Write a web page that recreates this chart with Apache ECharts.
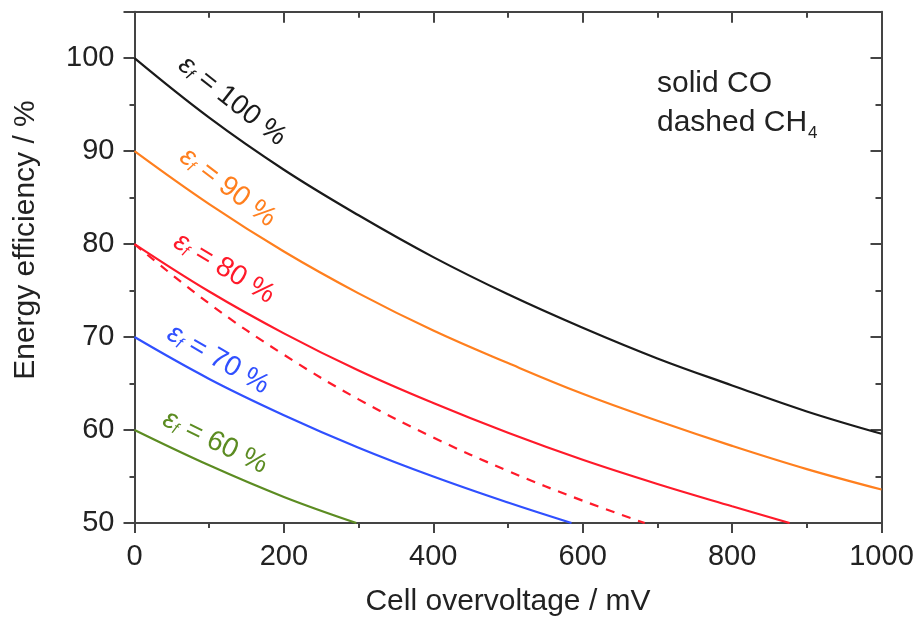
<!DOCTYPE html>
<html>
<head>
<meta charset="utf-8">
<script src="https://cdn.jsdelivr.net/npm/echarts@6/dist/echarts.min.js"></script>
<style>
html,body{margin:0;padding:0;background:#fff;}
#chart{width:918px;height:622px;}
</style>
</head>
<body>
<div id="chart"></div>
<script>
// ---- data ----
const xFull = [0, 100, 200, 300, 400, 500, 600, 700, 800, 900, 1000];
const eff100 = [100, 93.6, 88.0, 83.1, 78.6, 74.6, 71.0, 67.7, 64.8, 62.0, 59.6];
const eff90  = [90, 84.3, 79.2, 74.7, 70.7, 67.2, 63.9, 61.0, 58.3, 55.8, 53.6];
const x80 = [0, 100, 200, 300, 400, 500, 600, 700, 800, 877];
const eff80 = [80, 74.9, 70.4, 66.4, 62.9, 59.7, 56.8, 54.2, 51.8, 50];
const x70 = [0, 100, 200, 300, 400, 500, 585];
const eff70 = [70, 65.5, 61.6, 58.1, 55.0, 52.2, 50];
const x60 = [0, 100, 200, 297];
const eff60 = [60, 56.2, 52.8, 50];
const xCH4 = [0, 100, 200, 300, 400, 500, 600, 683];
const effCH4 = [80, 73.6, 68.1, 63.3, 59.2, 55.6, 52.4, 50];
const xTicks = [0, 200, 400, 600, 800, 1000];
const yTicks = [50, 60, 70, 80, 90, 100];

const labelTexts = ['100', '90', '80', '70', '60'];
const labelPos = [[131, 95.4], [125, 86.1], [120, 77.4], [112, 67.6], [108, 58.7]];
const labelAngles = [38, 37, 31, 30, 26];

const C_BLACK = '#1a1a1a', C_ORANGE = '#ff7f1e', C_RED = '#ff1a2a', C_BLUE = '#3050ff', C_GREEN = '#5c8c22';
const labelColors = [C_BLACK, C_ORANGE, C_RED, C_BLUE, C_GREEN];

const pairs = (xs, ys) => xs.map((x, i) => [x, ys[i]]);
const FONT = 'Liberation Sans, Arial, sans-serif';
const AX = '#444444';
const TXT = '#222222';

const chart = echarts.init(document.getElementById('chart'), null, {renderer: 'canvas'});

function lineSeries(name, data, color, dashed) {
  return {
    name, type: 'line', xAxisIndex: 0, yAxisIndex: 0,
    data, smooth: 0.4, showSymbol: false, symbol: 'none',
    lineStyle: {color, width: 2.2, type: dashed ? [9, 8] : 'solid'},
    clip: true, z: 3
  };
}

const baseX = {
  type: 'value', min: 0, max: 1000, interval: 200,
  axisLine: {show: true, onZero: false, lineStyle: {color: AX, width: 2}},
  splitLine: {show: false},
};
const baseY = {
  type: 'value', min: 50, max: 105,
  axisLine: {show: true, onZero: false, lineStyle: {color: AX, width: 2}},
  splitLine: {show: false},
};

chart.setOption({
  animation: false,
  backgroundColor: '#fff',
  grid: {left: 134.5, right: 36.5, top: 11.7, bottom: 96.3, containLabel: false},
  xAxis: [
    Object.assign({}, baseX, {
      position: 'bottom',
      name: 'Cell overvoltage / mV', nameLocation: 'middle', nameGap: 64,
      nameTextStyle: {fontFamily: FONT, fontSize: 30, color: TXT},
      axisTick: {show: true, inside: false, length: 10, lineStyle: {color: AX, width: 2}},
      minorTick: {show: true, splitNumber: 2, length: 5, lineStyle: {color: AX, width: 2}},
      axisLabel: {show: true, fontFamily: FONT, fontSize: 29, color: TXT, margin: 19,
        formatter: v => xTicks.includes(v) ? String(v) : ''}
    }),
    Object.assign({}, baseX, {
      position: 'top',
      axisTick: {show: true, inside: true, length: 11, lineStyle: {color: AX, width: 2}},
      minorTick: {show: true, splitNumber: 2, length: 6, lineStyle: {color: AX, width: 2}},
      axisLabel: {show: false}
    })
  ],
  yAxis: [
    Object.assign({}, baseY, {
      position: 'left', interval: 10,
      axisTick: {show: true, inside: false, length: 11, lineStyle: {color: AX, width: 2}},
      axisLabel: {show: true, fontFamily: FONT, fontSize: 29, color: TXT, margin: 20,
        formatter: v => yTicks.includes(v) ? String(v) : ''}
    }),
    Object.assign({}, baseY, {
      position: 'left', interval: 5,
      axisLine: {show: false, onZero: false},
      axisTick: {show: true, inside: false, length: 5, lineStyle: {color: AX, width: 2}},
      axisLabel: {show: false}
    }),
    Object.assign({}, baseY, {
      position: 'right', interval: 10,
      axisTick: {show: true, inside: true, length: 11, lineStyle: {color: AX, width: 2}},
      axisLabel: {show: false}
    }),
    Object.assign({}, baseY, {
      position: 'right', interval: 5,
      axisLine: {show: false, onZero: false},
      axisTick: {show: true, inside: true, length: 6, lineStyle: {color: AX, width: 2}},
      axisLabel: {show: false}
    })
  ],
  series: [
    lineSeries('εf = 100 % CO', pairs(xFull, eff100), C_BLACK, false),
    lineSeries('εf = 90 % CO', pairs(xFull, eff90), C_ORANGE, false),
    lineSeries('εf = 80 % CO', pairs(x80, eff80), C_RED, false),
    lineSeries('εf = 80 % CH4', pairs(xCH4, effCH4), C_RED, true),
    lineSeries('εf = 70 % CO', pairs(x70, eff70), C_BLUE, false),
    lineSeries('εf = 60 % CO', pairs(x60, eff60), C_GREEN, false)
  ]
});

// annotations
const graphics = [];
labelTexts.forEach((t, i) => {
  const p = chart.convertToPixel({xAxisIndex: 0, yAxisIndex: 0}, labelPos[i]);
  graphics.push({
    type: 'text', x: p[0], y: p[1], rotation: -labelAngles[i] * Math.PI / 180, z: 10,
    style: {
      text: '{e|ε}{s|f}{t| = ' + t + ' %}',
      align: 'center', verticalAlign: 'middle',
      fill: labelColors[i],
      rich: {
        e: {fontFamily: FONT, fontSize: 28, fontStyle: 'italic', fill: labelColors[i], lineHeight: 28, verticalAlign: 'top'},
        s: {fontFamily: FONT, fontSize: 16, fontStyle: 'italic', fill: labelColors[i], lineHeight: 16, padding: [14, 0, 0, 0], verticalAlign: 'bottom'},
        t: {fontFamily: FONT, fontSize: 28, fill: labelColors[i], lineHeight: 28, verticalAlign: 'top'}
      }
    }
  });
});
graphics.push({
  type: 'text', left: 657, top: 69, z: 10,
  style: {text: 'solid CO', fontFamily: FONT, fontSize: 30, fill: TXT}
});
graphics.push({
  type: 'text', left: 657, top: 107, z: 10,
  style: {
    text: '{a|dashed CH}{b|4}', fill: TXT,
    rich: {
      a: {fontFamily: FONT, fontSize: 30, fill: TXT, lineHeight: 34, verticalAlign: 'top'},
      b: {fontFamily: FONT, fontSize: 17, fill: TXT, lineHeight: 17, padding: [18, 0, 0, 1], verticalAlign: 'bottom'}
    }
  }
});
graphics.push({
  type: 'text', x: 26, y: 240, rotation: Math.PI / 2, z: 10,
  style: {text: 'Energy efficiency / %', fontFamily: FONT, fontSize: 30, fill: TXT, align: 'center', verticalAlign: 'middle'}
});
chart.setOption({graphic: graphics});
</script>
</body>
</html>
